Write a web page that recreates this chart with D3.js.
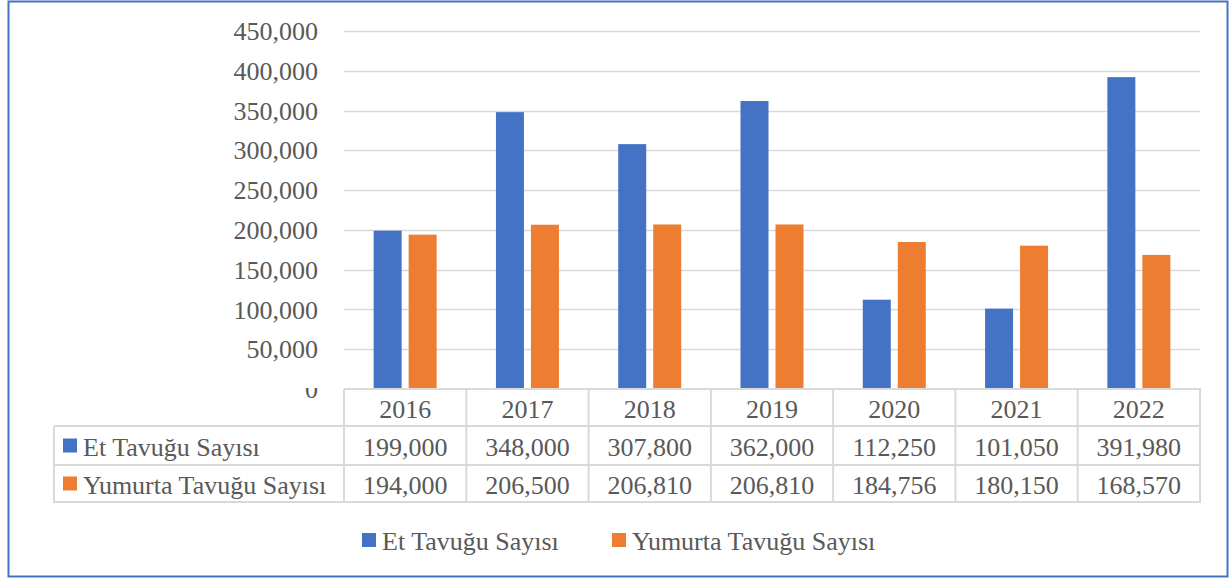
<!DOCTYPE html>
<html>
<head>
<meta charset="utf-8">
<script src="https://cdn.jsdelivr.net/npm/d3@7"></script>
<style>
html,body{margin:0;padding:0;background:#fff;}
svg{display:block;}
</style>
</head>
<body>
<svg id="chart" width="1232" height="579"></svg>
<script>
const years = ["2016","2017","2018","2019","2020","2021","2022"];
const seriesNames = ["Et Tavuğu Sayısı","Yumurta Tavuğu Sayısı"];
const etValues = [199000,348000,307800,362000,112250,101050,391980];
const yumurtaValues = [194000,206500,206810,206810,184756,180150,168570];
const yTicks = [0,50000,100000,150000,200000,250000,300000,350000,400000,450000];
const colors = ["#4472c4","#ed7d31"];

const seriesValues = [etValues, yumurtaValues];
const svg = d3.select("#chart");
const FF = "'Liberation Serif'";
const fmt = d3.format(",");
const FS = 26;
const TC = "#595959";

// outer border
svg.append("rect").attr("x",8.5).attr("y",1.5).attr("width",1219).attr("height",575)
  .attr("fill","#fff").attr("stroke","#4472c4").attr("stroke-width",2);

const plotL = 344, plotR = 1200, plotT = 31, plotB = 389;
const y = d3.scaleLinear().domain([0,450000]).range([plotB, plotT]);
const x0 = d3.scaleBand().domain(years).range([plotL, plotR]).padding(0);
const groupW = 63;
const x1 = d3.scaleBand().domain(seriesNames).range([0, groupW]).paddingInner(0.2).paddingOuter(0);

// gridlines
svg.append("g").selectAll("line").data(yTicks.filter(d=>d>0)).join("line")
  .attr("x1",plotL).attr("x2",plotR)
  .attr("y1",d=>Math.round(y(d))+0.5).attr("y2",d=>Math.round(y(d))+0.5)
  .attr("stroke","#d9d9d9").attr("stroke-width",1.6);

// y labels
svg.append("clipPath").attr("id","yclip").append("rect")
  .attr("x",0).attr("y",388).attr("width",340).attr("height",40);
svg.append("g").selectAll("text").data(yTicks).join("text")
  .attr("x",318).attr("y",d=>y(d)).attr("dy","0.35em")
  .attr("text-anchor","end").attr("font-family",FF).attr("font-size",FS).attr("fill",TC)
  .attr("clip-path",d=>d===0?"url(#yclip)":null)
  .text(d=>fmt(d));

// bars
const groups = svg.append("g").selectAll("g").data(years).join("g")
  .attr("transform",d=>`translate(${x0(d)+(x0.bandwidth()-groupW)/2},0)`);
groups.selectAll("rect").data((d,i)=>seriesNames.map((s,j)=>({s, v:seriesValues[j][i], c:colors[j]}))).join("rect")
  .attr("x",d=>x1(d.s)).attr("width",x1.bandwidth())
  .attr("y",d=>y(d.v)).attr("height",d=>y(0)-y(d.v))
  .attr("fill",d=>d.c);

// data table
const rowTops = [389, 426, 465, 502];
const tableL = 54;
const tg = svg.append("g").attr("stroke","#d9d9d9").attr("stroke-width",2);
tg.append("line").attr("x1",plotL).attr("x2",plotR+1).attr("y1",rowTops[0]).attr("y2",rowTops[0]);
[1,2,3].forEach(i=>{
  tg.append("line").attr("x1",tableL).attr("x2",plotR+1).attr("y1",rowTops[i]).attr("y2",rowTops[i]);
});
tg.append("line").attr("x1",tableL).attr("x2",tableL).attr("y1",rowTops[1]).attr("y2",rowTops[3]+1);
const colEdges = years.map(d=>x0(d)).concat([plotR]);
tg.selectAll("line.col").data(colEdges).join("line").attr("class","col")
  .attr("x1",d=>d).attr("x2",d=>d).attr("y1",rowTops[0]).attr("y2",rowTops[3]+1);

// year header
svg.append("g").selectAll("text").data(years).join("text")
  .attr("x",d=>x0(d)+x0.bandwidth()/2).attr("y",(rowTops[0]+rowTops[1])/2+1).attr("dy","0.35em")
  .attr("text-anchor","middle").attr("font-family",FF).attr("font-size",FS).attr("fill",TC).text(d=>d);

// rows
seriesNames.forEach((s,j)=>{
  const cy = (rowTops[j+1]+rowTops[j+2])/2;
  svg.append("rect").attr("x",63).attr("y",cy-7).attr("width",14).attr("height",14).attr("fill",colors[j]);
  svg.append("text").attr("x",83).attr("y",cy+1).attr("dy","0.35em")
    .attr("font-family",FF).attr("font-size",FS).attr("fill",TC).text(s);
  svg.append("g").selectAll("text").data(seriesValues[j]).join("text")
    .attr("x",(d,i)=>x0(years[i])+x0.bandwidth()/2).attr("y",cy+1).attr("dy","0.35em")
    .attr("text-anchor","middle").attr("font-family",FF).attr("font-size",FS).attr("fill",TC).text(d=>fmt(d));
});

// bottom legend
const legX = [362, 612];
seriesNames.forEach((s,j)=>{
  svg.append("rect").attr("x",legX[j]).attr("y",533).attr("width",14).attr("height",14).attr("fill",colors[j]);
  svg.append("text").attr("x",legX[j]+20).attr("y",541).attr("dy","0.35em")
    .attr("font-family",FF).attr("font-size",FS).attr("fill",TC).text(s);
});
</script>
</body>
</html>
